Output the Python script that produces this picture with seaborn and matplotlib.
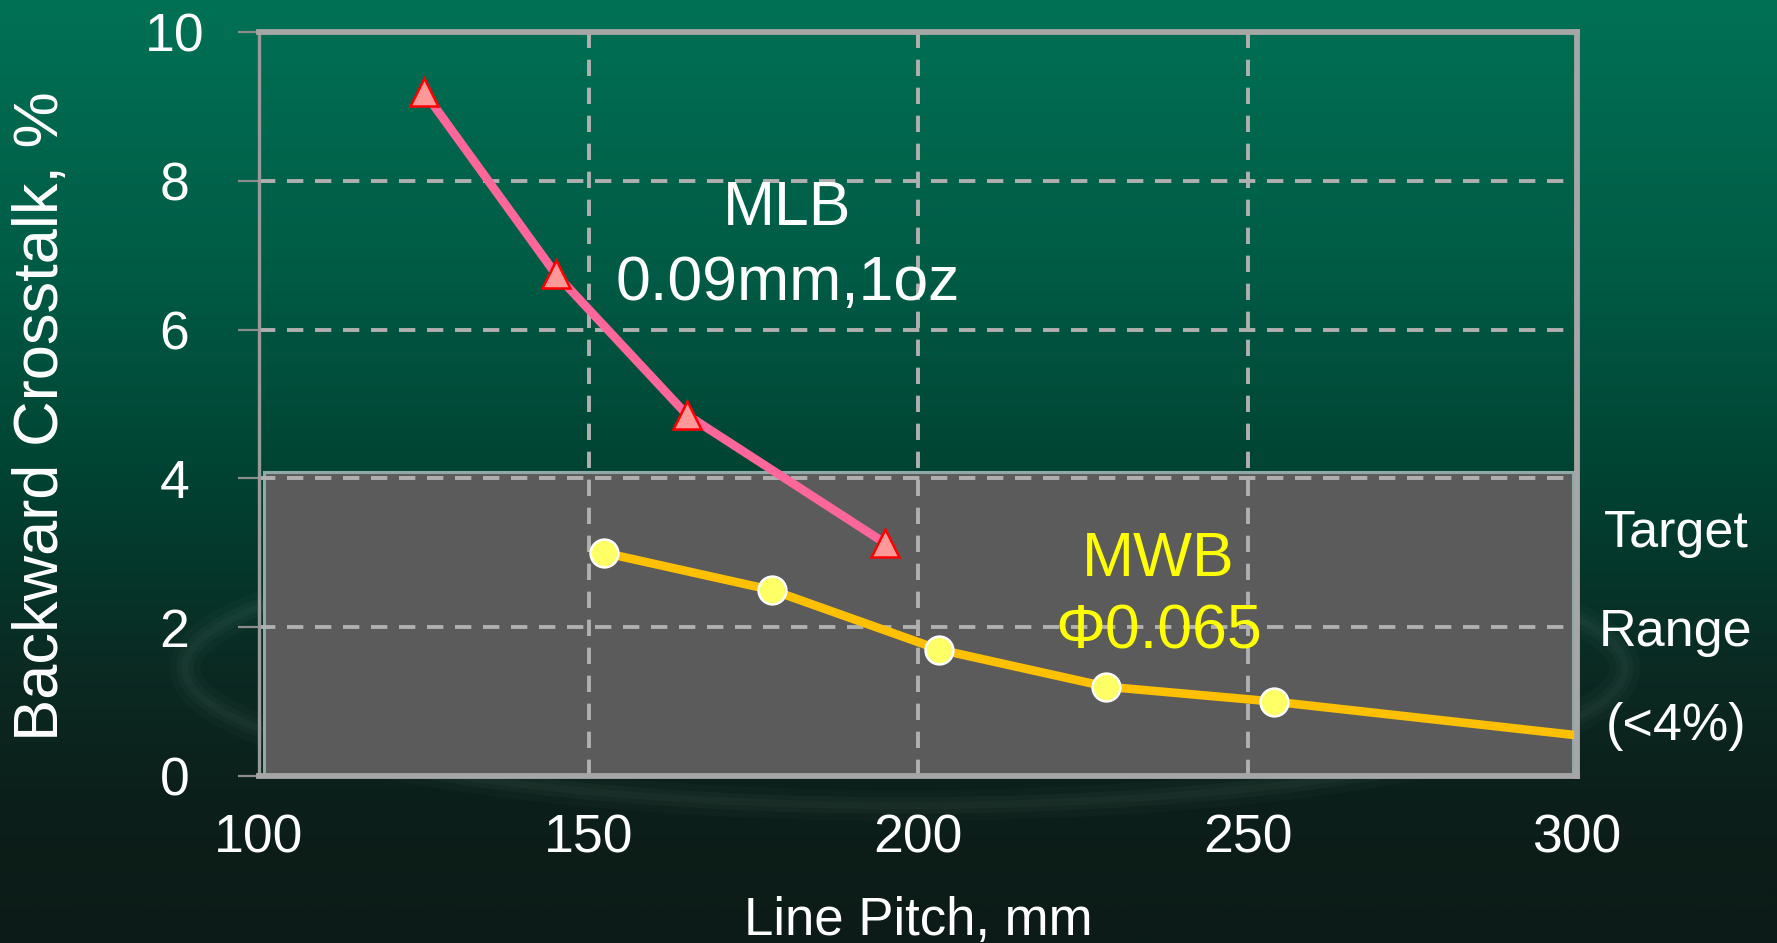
import numpy as np
import matplotlib
matplotlib.use("Agg")
import matplotlib.pyplot as plt
from matplotlib.patches import Rectangle, Ellipse
import seaborn as sns

# ---- data -------------------------------------------------------------
mlb_pitch = [125, 145, 165, 195]
mlb_xtalk = [9.2, 6.75, 4.85, 3.13]

mwb_pitch = [152.4, 177.8, 203.2, 228.6, 254.0, 304.8]
mwb_xtalk = [3.0, 2.5, 1.7, 1.2, 1.0, 0.5]

x_ticks = [100, 150, 200, 250, 300]
y_ticks = [0, 2, 4, 6, 8, 10]
target_limit = 4.08

# ---- style ------------------------------------------------------------
sns.set_style("white")
plt.rcParams["font.family"] = ["Liberation Sans", "DejaVu Sans"]

W, H = 1777, 943
fig = plt.figure(figsize=(W / 100, H / 100), dpi=100)

# slide background: vertical green gradient with a faint swoosh
bg = fig.add_axes([0, 0, 1, 1], zorder=-10)
stops = [0.0, 0.3, 0.5, 0.7, 0.85, 1.0]
cols = np.array([(0, 113, 85), (0, 90, 68), (0, 67, 51),
                 (10, 43, 35), (12, 31, 26), (12, 27, 23)]) / 255.0
t = np.linspace(0, 1, 400)
grad = np.stack([np.interp(t, stops, cols[:, k]) for k in range(3)], axis=-1)
bg.imshow(grad[:, None, :], aspect="auto", extent=[0, 1, 0, 1], origin="upper")
for lw, a in [(22, 0.025), (12, 0.03), (5, 0.03)]:
    bg.add_patch(Ellipse((905 / W, 1 - 668 / H), 1440 / W, 275 / H,
                         fill=False, ec=(0.8, 0.9, 0.85), lw=lw, alpha=a))
bg.set_xlim(0, 1)
bg.set_ylim(0, 1)
bg.axis("off")

ax = fig.add_axes([259 / W, 1 - 776 / H, 1318 / W, 744 / H])
ax.set_facecolor("none")

# target range box
ax.add_patch(Rectangle((100.8, 0), 198.6, target_limit, facecolor="#5b5b5b",
                       edgecolor="#8fa9a9", lw=2.2, zorder=0.5))

# dashed grid
grid_kw = dict(color="#b0b0b0", lw=2.8, dashes=(4.2, 3.0), zorder=1)
for yv in y_ticks[1:-1]:
    ax.axhline(yv, xmin=0, xmax=0.99, **grid_kw)
for xv in x_ticks[1:-1]:
    ax.axvline(xv, **grid_kw)

# series
sns.lineplot(x=mlb_pitch, y=mlb_xtalk, ax=ax, color="#ff6699", lw=6.2,
             marker="^", markersize=20, markerfacecolor="#ff9999",
             markeredgecolor="#ff0000", markeredgewidth=1.8, zorder=3)
sns.lineplot(x=mwb_pitch, y=mwb_xtalk, ax=ax, color="#ffc000", lw=6.2,
             marker="o", markersize=20, markerfacecolor="#ffff66",
             markeredgecolor="white", markeredgewidth=1.8, zorder=3)

ax.set_xlim(100, 300)
ax.set_ylim(0, 10)
ax.set_xticks(x_ticks)
ax.set_yticks(y_ticks)
ax.set_xticklabels([str(v) for v in x_ticks])
ax.set_yticklabels([str(v) for v in y_ticks])

ax.tick_params(axis="x", length=0, pad=27, labelsize=38.5, labelcolor="white")
ax.tick_params(axis="y", length=15, width=1.6, color="#8c8c8c", pad=46,
               labelsize=38.5, labelcolor="white", left=True)
for lbl in ax.get_yticklabels():
    lbl.set_horizontalalignment("center")

for side in ["top", "bottom", "right"]:
    ax.spines[side].set_color("#a6a6a6")
    ax.spines[side].set_linewidth(4.2)
ax.spines["left"].set_color("#999999")
ax.spines["left"].set_linewidth(2.4)
for sp in ax.spines.values():
    sp.set_zorder(4)

ax.set_xlabel("Line Pitch, mm", fontsize=38, color="white")
ax.xaxis.label.set_verticalalignment("baseline")
ax.xaxis.set_label_coords(0.5, (776 - 935) / 744)
ax.set_ylabel("Backward Crosstalk, %", fontsize=45.5, color="white")
ax.yaxis.label.set_verticalalignment("center")
ax.yaxis.set_label_coords((42 - 259) / 1318, (776 - 416) / 744)

# series annotations
ax.text(180.2, 7.40, "MLB", fontsize=45, color="white", ha="center", va="baseline", zorder=5)
ax.text(180.2, 6.40, "0.09mm,1oz", fontsize=45, color="white", ha="center", va="baseline", zorder=5)
ax.text(236.5, 2.69, "MWB", fontsize=45, color="#ffff00", ha="center", va="baseline", zorder=5)
ax.text(236.5, 1.72, "\u03a60.065", fontsize=45, color="#ffff00", ha="center", va="baseline", zorder=5)

# target range note beside the plot
for txt, yb in [("Target", 3.08), ("Range", 1.75), ("(<4%)", 0.48)]:
    ax.text(315, yb, txt, fontsize=37.5, color="white", ha="center",
            va="baseline", clip_on=False)

fig.savefig("out.png", dpi=100)
